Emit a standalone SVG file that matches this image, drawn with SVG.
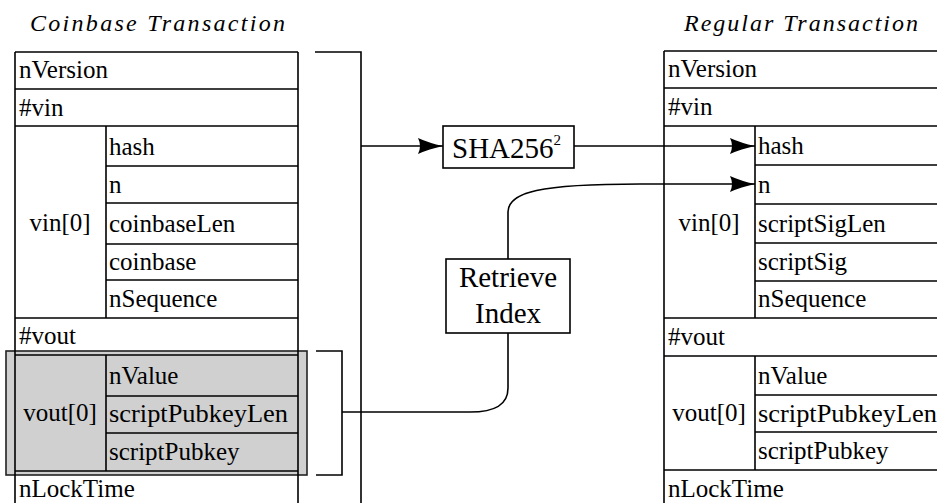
<svg xmlns="http://www.w3.org/2000/svg" width="937" height="503" viewBox="0 0 937 503">
<style>
.ln{fill:none;stroke:#000;stroke-width:1.6}
.box{fill:#fff;stroke:#000;stroke-width:1.6}
.t{font-family:"Liberation Serif","DejaVu Serif","Times New Roman",serif;font-size:25px;fill:#000}
.c{text-anchor:middle}
.big{font-size:29px}
.ti{font-family:"Liberation Serif","DejaVu Serif","Times New Roman",serif;font-size:24px;font-style:italic;fill:#000}
</style>
<defs>
<marker id="arr" markerUnits="userSpaceOnUse" markerWidth="28" markerHeight="18" refX="26" refY="9" orient="auto" viewBox="0 0 28 18">
<path d="M1,1 Q12,6 26,9 Q12,12 1,17 Q5,9 1,1 Z" fill="#000"/>
</marker>
</defs>
<rect width="937" height="503" fill="#fff"/>

<text class="ti" x="30" y="31" textLength="255" lengthAdjust="spacing">Coinbase Transaction</text>
<text class="ti" x="684" y="31" textLength="234" lengthAdjust="spacing">Regular Transaction</text>

<g id="coinbase-tx">
<rect x="6" y="351" width="301" height="124" fill="#d0d0d0" stroke="#222" stroke-width="1.6"/>
<path class="ln" d="M15,52V503M298,52V503M15,52H298M15,89H298M15,126H298M15,318H298M15,355H298M15,471H298M106,126V318M106,355V471M106,166H298M106,203H298M106,244H298M106,280H298M106,396H298M106,433H298"/>
<text class="t" x="19" y="78">nVersion</text>
<text class="t" x="19" y="116">#vin</text>
<text class="t c" x="60" y="231">vin[0]</text>
<text class="t" x="109" y="155">hash</text>
<text class="t" x="109" y="193">n</text>
<text class="t" x="109" y="232">coinbaseLen</text>
<text class="t" x="109" y="270">coinbase</text>
<text class="t" x="109" y="307">nSequence</text>
<text class="t" x="19" y="344">#vout</text>
<text class="t c" x="60" y="421">vout[0]</text>
<text class="t" x="109" y="384">nValue</text>
<text class="t" x="109" y="422" textLength="179" lengthAdjust="spacingAndGlyphs">scriptPubkeyLen</text>
<text class="t" x="109" y="460">scriptPubkey</text>
<text class="t" x="19" y="497">nLockTime</text>
</g>

<g id="regular-tx">
<path class="ln" d="M664,51V503M664,51H940M664,88H940M664,126H940M664,318H940M664,356H940M664,470H940M755,126V318M755,356V470M755,165H940M755,204H940M755,243H940M755,281H940M755,395H940M755,432H940"/>
<text class="t" x="668" y="77">nVersion</text>
<text class="t" x="668" y="115">#vin</text>
<text class="t c" x="709" y="231">vin[0]</text>
<text class="t" x="758" y="154">hash</text>
<text class="t" x="758" y="193">n</text>
<text class="t" x="758" y="232">scriptSigLen</text>
<text class="t" x="758" y="270">scriptSig</text>
<text class="t" x="758" y="307">nSequence</text>
<text class="t" x="668" y="345">#vout</text>
<text class="t c" x="709" y="421">vout[0]</text>
<text class="t" x="758" y="384">nValue</text>
<text class="t" x="758" y="422" textLength="179" lengthAdjust="spacingAndGlyphs">scriptPubkeyLen</text>
<text class="t" x="758" y="459">scriptPubkey</text>
<text class="t" x="668" y="497">nLockTime</text>
</g>

<g id="connectors">
<path class="ln" d="M315,52H361V503"/>
<path class="ln" d="M316,351H342V475H316"/>
<path class="ln" d="M361,146H443" marker-end="url(#arr)"/>
<path class="ln" d="M574,146H755" marker-end="url(#arr)"/>
<path class="ln" d="M508,259V212C508,192 540,184 640,184H755" marker-end="url(#arr)"/>
<path class="ln" d="M508,333V388C508,405 495,412 470,412H342"/>
</g>

<g id="sha256">
<rect class="box" x="443" y="126" width="131" height="42"/>
<text class="t big" x="452" y="158">SHA256<tspan font-size="15" dy="-13">2</tspan></text>
</g>

<g id="retrieve-index">
<rect class="box" x="446" y="259" width="124" height="74"/>
<text class="t c big" x="508" y="287">Retrieve</text>
<text class="t c big" x="508" y="323">Index</text>
</g>
</svg>
